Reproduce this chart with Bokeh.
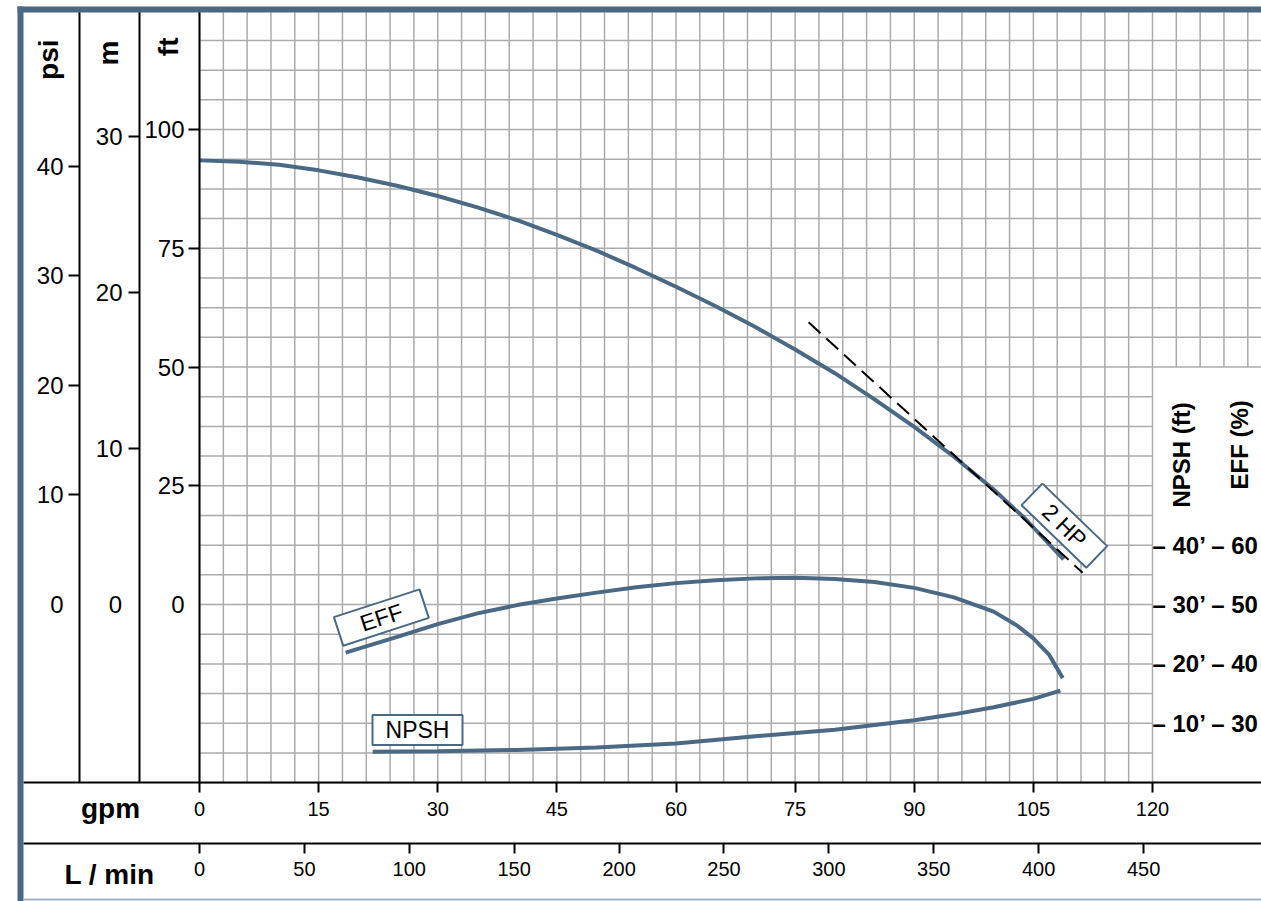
import numpy as np
from bokeh.plotting import figure
from bokeh.models import Range1d, LinearAxis, FixedTicker, Label, BoxAnnotation
from bokeh.core.properties import value
from bokeh.embed import file_html
from bokeh.resources import INLINE

# ---------------- data ----------------
gpm_ticks = [0, 15, 30, 45, 60, 75, 90, 105, 120]
lpm_ticks = [0, 50, 100, 150, 200, 250, 300, 350, 400, 450]
ft_ticks = [25, 50, 75, 100]
m_ticks = [10, 20, 30]
psi_ticks = [10, 20, 30, 40]
npsh_ticks = [10, 20, 30, 40]
eff_ticks = [30, 40, 50, 60]

# head curve (gpm, ft)
head_gpm = [0, 5, 10, 15, 20, 25, 30, 35, 40, 45, 50, 55, 60, 65, 70, 75, 80, 85, 90, 95, 100, 104, 108.8]
head_ft = [93.5, 93.2, 92.6, 91.4, 89.9, 88.1, 86.0, 83.6, 80.9, 77.8, 74.5, 70.8, 66.9, 62.8,
           58.4, 53.7, 48.7, 43.2, 37.4, 31.1, 24.2, 18.0, 9.5]

# efficiency curve (gpm, %)
eff_gpm = [18.4, 25, 30, 35, 40, 45, 50, 55, 60, 65, 70, 75, 80, 85, 90, 95, 100, 103, 105, 107, 108.7]
eff_pct = [41.9, 44.6, 46.7, 48.5, 49.9, 51.0, 52.0, 52.9, 53.6, 54.1, 54.4, 54.5, 54.3, 53.8,
           52.8, 51.2, 48.8, 46.4, 44.3, 41.5, 37.6]

# NPSH curve (gpm, ft)
npsh_gpm = [21.8, 30, 40, 50, 60, 70, 80, 90, 95, 100, 105, 108.4]
npsh_ft = [5.2, 5.3, 5.5, 5.9, 6.6, 7.8, 8.9, 10.5, 11.5, 12.7, 14.1, 15.5]

# 2 HP limit line (gpm, ft)
hp_gpm = [76.7, 111.2]
hp_ft = [59.4, 6.7]

# curve labels
label_text = ["2 HP", "EFF", "NPSH"]
label_gpm = [108.9, 22.9, 27.45]
label_ft = [16.6, -2.74, -26.4]
label_angle = [-0.768, 0.314, 0.0]

# ---------------- units / layout ----------------
FT_PER_M = 3.28084
FT_PER_PSI = 2.30666
LPM_PER_GPM = 3.78541
H_MIN, H_MAX = -37.5, 125.0
NPSH_PER_FT = 0.8
Q_END = gpm_ticks[-1]
H_PANEL_TOP = 50.0

PW, PH = 1261, 901
X0_PX, PX_PER_GPM = 199.0, 953.0 / 120.0
Y0_PX, PX_PER_FT = 604.0, 4.75


def gx(px):
    return (px - X0_PX) / PX_PER_GPM


def gy(py):
    return (Y0_PX - py) / PX_PER_FT


BLUE = "#4a6985"
GRID = "#ababab"
FONT = "Liberation Sans"

p = figure(width=PW, height=PH, x_range=Range1d(gx(0), gx(PW)), y_range=Range1d(gy(PH), gy(0)),
           output_backend="svg", toolbar_location=None,
           min_border_left=0, min_border_right=0, min_border_top=0, min_border_bottom=0,
           background_fill_color="white", border_fill_color="white", outline_line_color=None)
p.xgrid.visible = False
p.ygrid.visible = False

p.extra_y_ranges = {
    "m": Range1d(gy(PH) / FT_PER_M, gy(0) / FT_PER_M),
    "psi": Range1d(gy(PH) / FT_PER_PSI, gy(0) / FT_PER_PSI),
    "npsh": Range1d((gy(PH) - H_MIN) * NPSH_PER_FT, (gy(0) - H_MIN) * NPSH_PER_FT),
    "eff": Range1d(20 + (gy(PH) - H_MIN) * NPSH_PER_FT, 20 + (gy(0) - H_MIN) * NPSH_PER_FT),
}
p.extra_x_ranges = {"lpm": Range1d(gx(0) * LPM_PER_GPM, gx(PW) * LPM_PER_GPM)}


def style_axis(ax, ticks, size, standoff, tick_out, loc, bounds):
    ax.ticker = FixedTicker(ticks=ticks, minor_ticks=[])
    ax.fixed_location = loc
    ax.bounds = bounds
    ax.major_tick_in = 0
    ax.major_tick_out = tick_out
    ax.minor_tick_in = 0
    ax.minor_tick_out = 0
    ax.major_tick_line_width = 2
    ax.major_tick_line_color = "black"
    ax.axis_line_width = 2
    ax.axis_line_color = "black"
    ax.major_label_text_font = FONT
    ax.major_label_text_font_size = size
    ax.major_label_text_color = "black"
    ax.major_label_standoff = standoff


# left axes (drawn inside the canvas at fixed columns)
style_axis(p.yaxis[0], ft_ticks, "24px", 4, 11, 0, (H_MIN, H_MAX))
m_axis = LinearAxis(y_range_name="m")
style_axis(m_axis, m_ticks, "24px", 6, 11, gx(139), (H_MIN / FT_PER_M, H_MAX / FT_PER_M))
p.add_layout(m_axis, "left")
psi_axis = LinearAxis(y_range_name="psi")
style_axis(psi_axis, psi_ticks, "24px", 5, 11, gx(79), (H_MIN / FT_PER_PSI, H_MAX / FT_PER_PSI))
p.add_layout(psi_axis, "left")

# bottom axes
style_axis(p.xaxis[0], gpm_ticks, "20px", 9, 10, H_MIN, (gx(23), gx(PW)))
lpm_axis = LinearAxis(x_range_name="lpm")
style_axis(lpm_axis, lpm_ticks, "20px", 8, 10, gy(843),
           (gx(23) * LPM_PER_GPM, gx(PW) * LPM_PER_GPM))
p.add_layout(lpm_axis, "below")

# zero labels (the reference shows no tick mark at zero)
for xc in (63, 121.5, 184):
    p.add_layout(Label(x=xc, x_units="canvas", y=0, y_units="data", text="0",
                       text_align="right", text_baseline="middle",
                       text_font=FONT, text_font_size="24px", text_color="black"))

# grid
gxs = np.arange(0, gx(PW), 3.0)
gys = np.arange(H_MIN, H_MAX + 0.01, 6.25)
p.segment(x0=gxs, y0=np.where(gxs <= Q_END, H_MIN, H_PANEL_TOP), x1=gxs, y1=np.full(len(gxs), H_MAX),
          line_color=GRID, line_width=1.5)
p.segment(x0=np.zeros(len(gys)), y0=gys, x1=np.where(gys >= H_PANEL_TOP, gx(PW), Q_END), y1=gys,
          line_color=GRID, line_width=1.5)

# curves
p.line(head_gpm, head_ft, line_color=BLUE, line_width=4)
p.line(eff_gpm, eff_pct, y_range_name="eff", line_color=BLUE, line_width=4)
p.line(npsh_gpm, npsh_ft, y_range_name="npsh", line_color=BLUE, line_width=4)
p.line(hp_gpm, hp_ft, line_color="black", line_width=2, line_dash="16 8")

# curve labels
p.rect(x=label_gpm, y=label_ft, width=90, height=30, angle=label_angle,
       width_units="screen", height_units="screen",
       fill_color="white", line_color=BLUE, line_width=2)
p.text(x=label_gpm, y=label_ft, text=label_text, angle=label_angle,
       text_align="center", text_baseline="middle",
       text_font=value(FONT), text_font_size="23px", text_color="black")

# NPSH / EFF scale
p.text(x=[Q_END] * len(npsh_ticks), y=npsh_ticks, y_range_name="npsh",
       text=[f"\u2013 {n}\u2019 \u2013 {e}" for n, e in zip(npsh_ticks, eff_ticks)],
       text_align="left", text_baseline="middle",
       text_font=value(FONT), text_font_style="bold", text_font_size="24px", text_color="black")


# axis titles (canvas pixels, y measured from the top)
def title(text, x, y, size, angle=0.0, align="center", baseline="alphabetic"):
    p.add_layout(Label(x=x, y=y, x_units="canvas", y_units="canvas", text=text,
                       angle=angle, text_align=align, text_baseline=baseline,
                       text_font=FONT, text_font_style="bold", text_font_size=size,
                       text_color="black"))


title("psi", 47.5, 39, "28px", np.pi / 2, "right")
title("m", 107.5, 40, "28px", np.pi / 2, "right")
title("ft", 167.5, 37, "28px", np.pi / 2, "right")
title("NPSH (ft)", 1180.5, 507, "24px", np.pi / 2, "left")
title("EFF (%)", 1239, 489, "24px", np.pi / 2, "left")
title("gpm", 110, 808, "28px")
title("L / min", 109, 874, "28px")


# frame decorations
def bar(left, right, top, bottom, color):
    p.add_layout(BoxAnnotation(left=left, right=right, top=top, bottom=bottom,
                               left_units="canvas", right_units="canvas",
                               top_units="canvas", bottom_units="canvas",
                               fill_color=color, fill_alpha=1, line_color=None, level="overlay"))


bar(17, PW, 6, 12, "#4a6883")    # top bar
bar(17, 23, 6, PH, "#4a6883")    # left bar
bar(23, PW, 898, 900, "#a3b4c4")  # bottom line

open("out.html", "w").write(file_html(p, INLINE))
